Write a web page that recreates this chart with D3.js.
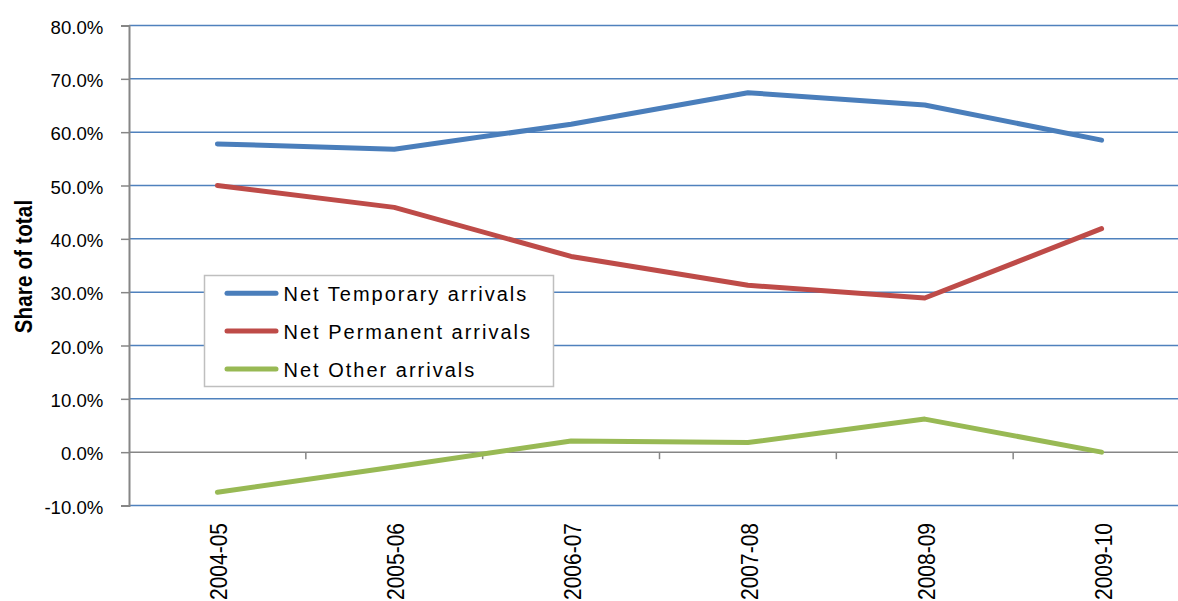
<!DOCTYPE html>
<html><head><meta charset="utf-8">
<script src="https://cdn.jsdelivr.net/npm/d3@7"></script>
<style>
body{margin:0;background:#fff;}
text{font-family:"Liberation Sans",Arial,sans-serif;fill:#000;}
</style></head>
<body><svg id="c" width="1178" height="601"></svg>
<script>
const categories = ["2004-05","2005-06","2006-07","2007-08","2008-09","2009-10"];
const temporary = [57.8, 56.8, 61.5, 67.4, 65.1, 58.5];
const permanent = [50.0, 45.9, 36.7, 31.3, 28.9, 41.9];
const other = [-7.5, -2.8, 2.1, 1.8, 6.2, 0.0];
const seriesNames = ["Net Temporary arrivals","Net Permanent arrivals","Net Other arrivals"];
const seriesColors = ["#4A7EBB","#BE4B48","#98B954"];
const yTicks = [-10,0,10,20,30,40,50,60,70,80];

const svg = d3.select("#c");
const L = 129, R = 1190, T = 25.5, B = 505.5;
const x = d3.scaleBand().domain(categories).range([L, R]);
const y = d3.scaleLinear().domain([-10, 80]).range([B, T]);

// gridlines
svg.append("g").selectAll("line").data(yTicks.filter(d => d !== 0)).join("line")
  .attr("x1", L).attr("x2", R).attr("y1", d => y(d)).attr("y2", d => y(d))
  .attr("stroke", "#4F81BD").attr("stroke-width", 1.5);

// y axis
const yAxis = d3.axisLeft(y).tickValues(yTicks).tickSize(8).tickPadding(17.7)
  .tickFormat(d => d.toFixed(1) + "%");
const ga = svg.append("g").attr("transform", `translate(${L},0)`).call(yAxis);
ga.attr("font-family", null).attr("font-size", null);
ga.select(".domain").attr("stroke", "#868686").attr("stroke-width", 2);
ga.selectAll(".tick line").attr("stroke", "#868686").attr("stroke-width", 1.5);
ga.selectAll(".tick text").style("font-size", "18.6px").attr("dy", "0.42em").attr("fill", "#000");

// zero axis line and category ticks
svg.append("line").attr("x1", L).attr("x2", R).attr("y1", y(0)).attr("y2", y(0))
  .attr("stroke", "#868686").attr("stroke-width", 1.5);
const bounds = categories.slice(1).map(c => x(c));
svg.append("g").selectAll("line").data(bounds).join("line")
  .attr("x1", d => d).attr("x2", d => d).attr("y1", y(0)).attr("y2", y(0) + 7)
  .attr("stroke", "#868686").attr("stroke-width", 1.5);

// x labels
svg.append("g").selectAll("text").data(categories).join("text")
  .attr("transform", d => `translate(${x(d) + x.bandwidth()/2 + 10},523) rotate(-90) scale(1,1.1)`)
  .attr("text-anchor", "end").style("font-size", "21px").text(d => d);

// series lines
const data = [temporary, permanent, other];
const line = d3.line().x((d, i) => x(categories[i]) + x.bandwidth()/2).y(d => y(d));
data.forEach((s, k) => {
  svg.append("path").datum(s).attr("d", line).attr("fill", "none")
    .attr("stroke", seriesColors[k]).attr("stroke-width", 5)
    .attr("stroke-linecap", "round").attr("stroke-linejoin", "round");
});

// y title
svg.append("text").attr("transform", "translate(31.5,266.5) rotate(-90) scale(1,1.15)")
  .attr("text-anchor", "middle").style("font-size", "20.5px").attr("font-weight", "bold")
  .attr("letter-spacing", 0.2).text("Share of total");

// legend
const lg = svg.append("g");
lg.append("rect").attr("x", 204.5).attr("y", 275.5).attr("width", 349).attr("height", 111)
  .attr("fill", "#fff").attr("stroke", "#bfbfbf").attr("stroke-width", 1.5);
seriesNames.forEach((n, k) => {
  const yy = 293.3 + k * 37.8;
  lg.append("line").attr("x1", 227).attr("x2", 276).attr("y1", yy).attr("y2", yy)
    .attr("stroke", seriesColors[k]).attr("stroke-width", 5).attr("stroke-linecap", "round");
  lg.append("text").attr("x", 283.5).attr("y", yy + 7.7).style("font-size", "20px")
    .attr("letter-spacing", 2).text(n);
});
</script></body></html>
